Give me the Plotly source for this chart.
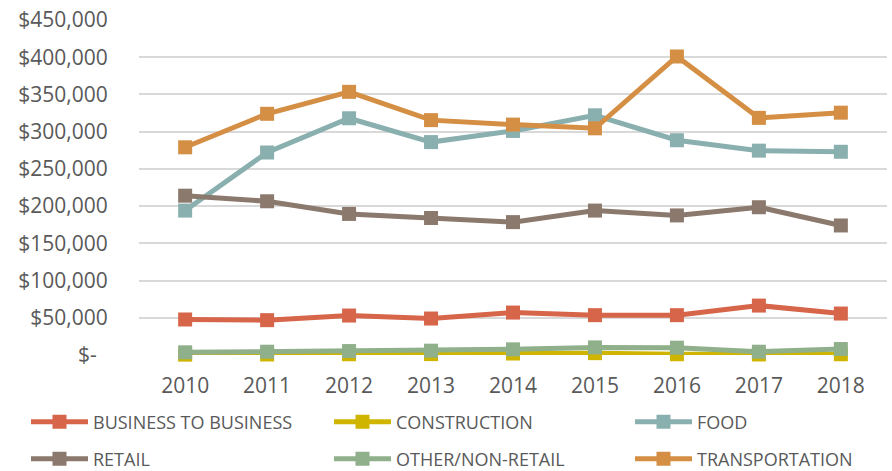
import plotly.graph_objects as go

years = ["2010", "2011", "2012", "2013", "2014", "2015", "2016", "2017", "2018"]

business_to_business = [47700, 46800, 53000, 49000, 57000, 53500, 53500, 66400, 55700]
construction = [500, 700, 1000, 1200, 2000, 2500, 1000, 700, 1000]
food = [194000, 272000, 318000, 286000, 301000, 322000, 288500, 274500, 273000]
retail = [214000, 206500, 189500, 184000, 178500, 194000, 187500, 198500, 174000]
other_non_retail = [3600, 4400, 5300, 5800, 7600, 10200, 9800, 4400, 8000]
transportation = [279000, 324000, 353500, 315500, 309500, 304500, 401000, 318500, 325500]

series_names = ["BUSINESS TO BUSINESS", "CONSTRUCTION", "FOOD",
                "RETAIL", "OTHER/NON-RETAIL", "TRANSPORTATION"]
series_values = [business_to_business, construction, food,
                 retail, other_non_retail, transportation]
series_colors = ["#D6654A", "#CFB500", "#8AAFAF", "#8B796D", "#8FB08A", "#D48F45"]

y_ticks = [0, 50000, 100000, 150000, 200000, 250000, 300000, 350000, 400000, 450000]
y_tick_text = ["$-\u00a0\u00a0"] + [f"${v:,}" for v in y_ticks[1:]]

text_color = "#595959"
font_family = "Open Sans"

W, H = 892, 471
# legend grid: three columns, two rows below the plot
col_left = [26, 329, 630]
row_mid = [422, 459]

fig = go.Figure()
legend_layouts = {}
for i, (name, values, color) in enumerate(zip(series_names, series_values, series_colors)):
    legend_id = "legend" if i == 0 else f"legend{i + 1}"
    fig.add_trace(go.Scatter(
        x=years, y=values, name=name, mode="lines+markers",
        line=dict(color=color, width=5),
        marker=dict(symbol="square", size=14, color=color),
        cliponaxis=False,
        legend=legend_id,
    ))
    legend_layouts[legend_id] = dict(
        orientation="h",
        xref="container", yref="container",
        xanchor="left", yanchor="middle",
        x=col_left[i % 3] / W,
        y=1 - row_mid[i // 3] / H,
        font=dict(family=font_family, size=18, color=text_color),
        itemwidth=57,
        borderwidth=0,
        bgcolor="rgba(0,0,0,0)",
    )

fig.update_layout(
    width=W, height=H,
    margin=dict(l=139, r=5, t=20, b=116, autoexpand=False),
    paper_bgcolor="white", plot_bgcolor="white",
    font=dict(family=font_family, color=text_color),
    showlegend=True,
    xaxis=dict(
        type="category",
        showgrid=False, zeroline=False, showline=False,
        ticks="outside", ticklen=12, tickcolor="rgba(0,0,0,0)",
        tickfont=dict(family=font_family, size=21, color=text_color),
    ),
    yaxis=dict(
        range=[0, 450000],
        tickvals=y_ticks, ticktext=y_tick_text,
        showgrid=True, gridcolor="#D9D9D9", gridwidth=1.5,
        zeroline=False, showline=False,
        ticks="outside", ticklen=26, tickcolor="rgba(0,0,0,0)",
        tickfont=dict(family=font_family, size=21, color=text_color),
    ),
    **legend_layouts,
)

fig.write_html("out.html")
